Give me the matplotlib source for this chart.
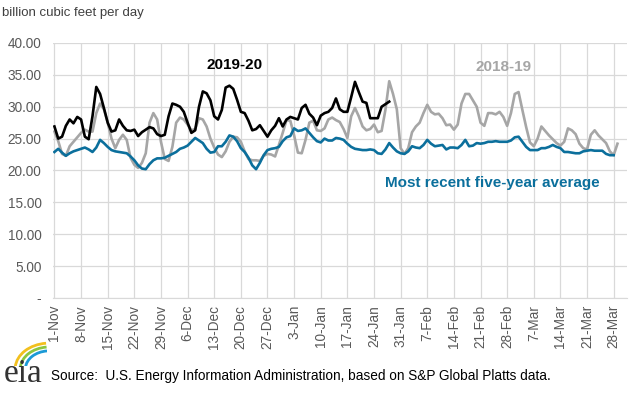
import numpy as np
import pandas as pd
import matplotlib
matplotlib.use("Agg")
import matplotlib.pyplot as plt
from matplotlib.patches import Arc

plt.rcParams['font.family'] = ['Liberation Sans', 'DejaVu Sans']

# daily values, billion cubic feet per day, starting 1-Nov
dates = pd.date_range("2018-11-01", "2019-03-31", freq="D")

flow_2019_20 = [
    26.9, 25.0, 25.3, 27.0, 28.0, 27.4, 28.4, 28.0, 25.3, 24.9,
    28.5, 33.1, 32.0, 29.8, 27.5, 26.1, 26.3, 28.0, 27.0, 26.3,
    26.2, 26.4, 25.4, 26.0, 26.4, 26.8, 26.6, 25.7, 25.4, 25.6,
    28.5, 30.5, 30.3, 30.0, 29.2, 27.5, 25.9, 26.3, 30.0, 32.4,
    32.1, 31.0, 28.5, 28.0, 29.5, 33.0, 33.3, 32.8, 31.1, 29.2,
    29.0, 27.8, 26.3, 26.5, 27.1, 26.2, 25.3, 26.3, 27.0, 28.2,
    26.9, 28.0, 28.4, 28.2, 28.0, 29.8, 30.3, 28.9, 28.3, 27.1,
    28.6, 29.0, 29.2, 29.8, 31.3, 29.6, 29.2, 29.2, 31.5, 33.9,
    32.3, 30.8, 30.6, 28.2, 28.2, 28.2, 30.0, 30.4, 30.8,
]

flow_2018_19 = [
    26.1, 24.6, 22.6, 22.3, 23.8, 24.5, 25.2, 25.9, 26.4, 26.1,
    26.1, 29.0, 30.5, 29.6, 27.5, 25.0, 23.5, 24.8, 25.6, 24.8,
    22.0, 20.9, 20.4, 21.2, 22.7, 27.5, 29.0, 28.0, 24.5, 21.8,
    21.5, 23.7, 27.5, 28.3, 28.0, 27.2, 26.3, 26.5, 28.2, 28.0,
    26.9, 25.0, 23.6, 22.5, 22.1, 23.0, 24.5, 25.3, 25.2, 24.5,
    23.0, 21.8, 21.6, 21.6, 21.5, 22.3, 22.6, 22.5, 22.2, 24.0,
    25.9, 27.9, 27.8, 25.5, 22.8, 22.7, 24.8, 27.5, 27.8, 26.3,
    26.2, 26.6, 28.0, 28.3, 27.9, 27.6, 26.5, 25.1, 28.5, 29.8,
    28.5, 26.9, 26.3, 26.5, 27.2, 26.0, 26.2, 29.5, 34.0, 32.0,
    29.6, 23.5, 22.6, 23.5, 26.0, 26.9, 27.5, 29.0, 30.3, 29.2,
    28.8, 28.9, 28.2, 27.1, 27.2, 26.4, 27.2, 30.5, 32.0, 32.0,
    31.0, 30.0, 27.5, 27.0, 29.0, 29.0, 28.8, 29.2, 28.4, 27.0,
    29.0, 32.0, 32.3, 29.5, 26.8, 24.4, 23.8, 25.0, 26.9, 26.2,
    25.5, 24.9, 24.3, 23.9, 24.5, 26.6, 26.3, 25.7, 24.2, 23.5,
    23.3, 25.6, 26.3, 25.5, 24.9, 24.3, 23.0, 22.4, 24.2,
]

five_year_avg = [
    22.9, 23.4, 22.8, 22.3, 22.7, 23.0, 23.2, 23.4, 23.6, 23.3,
    22.9, 23.6, 24.8, 24.3, 23.7, 23.2, 23.0, 22.9, 22.8, 22.7,
    22.2, 21.6, 20.8, 20.3, 20.2, 21.0, 21.6, 21.9, 21.9, 22.0,
    22.3, 22.6, 22.9, 23.4, 23.6, 23.9, 24.5, 25.1, 24.7, 24.3,
    23.4, 22.8, 22.9, 23.8, 23.8, 24.5, 25.5, 25.3, 24.6, 23.5,
    22.9, 22.0, 20.8, 20.2, 21.2, 22.4, 23.2, 23.4, 23.5, 23.7,
    24.6, 25.2, 25.4, 26.6, 26.2, 26.3, 26.6, 25.9, 25.2, 24.6,
    24.4, 25.0, 24.7, 24.7, 25.1, 25.0, 24.8, 24.2, 23.7, 23.4,
    23.3, 23.2, 23.2, 23.3, 23.2, 22.7, 22.6, 23.3, 24.3, 23.6,
    23.0, 22.7, 22.6, 23.0, 23.8, 23.6, 23.5, 24.0, 24.8, 24.2,
    23.8, 23.9, 24.0, 23.3, 23.6, 23.6, 23.5, 24.0, 24.8, 23.8,
    23.9, 24.3, 24.2, 24.3, 24.5, 24.5, 24.6, 24.5, 24.5, 24.5,
    24.7, 25.2, 25.3, 24.5, 23.7, 23.2, 23.2, 23.2, 23.5, 23.5,
    23.7, 24.0, 23.7, 23.5, 22.9, 22.9, 22.8, 22.7, 22.7, 23.0,
    23.1, 23.2, 23.1, 23.1, 23.1, 22.6, 22.4, 22.4,
]

yticks = [0, 5, 10, 15, 20, 25, 30, 35, 40]
ytick_labels = ["-"] + [f"{v:.2f}" for v in yticks[1:]]

black = "#000000"
grey = "#a6a6a6"
blue = "#0b6f9c"

fig = plt.figure(figsize=(6.33, 3.96), dpi=100)
ax = fig.add_axes([0.083, 0.2475, 0.9075, 0.644])

ax.plot(np.arange(len(flow_2018_19)), flow_2018_19, color=grey, lw=1.9, zorder=3)
ax.plot(np.arange(len(five_year_avg)), five_year_avg, color=blue, lw=1.9, zorder=4)
ax.plot(np.arange(len(flow_2019_20)), flow_2019_20, color=black, lw=1.9, zorder=5)

ax.set_xlim(-0.5, len(dates) - 0.5)
ax.set_ylim(0, 40)

tick_pos = np.arange(0, len(dates), 7)
ax.set_xticks(tick_pos)
ax.set_xticklabels([f"{dates[i].day}-{dates[i].strftime('%b')}" for i in tick_pos],
                   rotation=90, fontsize=9.8, color="#595959")
ax.set_yticks(yticks)
ax.set_yticklabels(ytick_labels, fontsize=9.8, color="#595959")

ax.grid(True, color="#d9d9d9", lw=0.9, zorder=0)
ax.set_axisbelow(True)
for side in ["top", "right", "left"]:
    ax.spines[side].set_visible(False)
ax.spines["bottom"].set_color("#d9d9d9")
ax.tick_params(axis="x", length=0, pad=5)
ax.tick_params(axis="y", length=0, pad=8)

fig.text(0.003, 0.968, "billion cubic feet per day", fontsize=9.5, color="#404040",
         ha="left", va="center")

ax.text(47.4, 36.5, "2019-20", fontsize=11, fontweight="bold", color=black,
        ha="center", va="center")
ax.text(118, 36.2, "2018-19", fontsize=11, fontweight="bold", color=grey,
        ha="center", va="center")
ax.text(115, 18.0, "Most recent five-year average", fontsize=11, fontweight="bold",
        color=blue, ha="center", va="center")

# eia logo
fig.text(0.006, 0.018, "eia", fontsize=24, family="Liberation Serif", color="#333333",
         ha="left", va="bottom")
logo_ax = fig.add_axes([0.015, 0.075, 0.06, 0.065])
logo_ax.set_xlim(0, 1)
logo_ax.set_ylim(0, 1)
logo_ax.axis("off")
for r, c in [(1.0, "#f2c01e"), (0.85, "#8cc63f"), (0.7, "#1b9ad6")]:
    logo_ax.add_patch(Arc((1.05, -0.1), 2 * r * 0.9, 2 * r, theta1=95, theta2=175,
                          color=c, lw=2))

fig.text(0.081, 0.05, "Source:  U.S. Energy Information Administration, based on S&P Global Platts data.",
         fontsize=9.8, color="#000000", ha="left", va="center")

fig.savefig("out.png", dpi=100)
